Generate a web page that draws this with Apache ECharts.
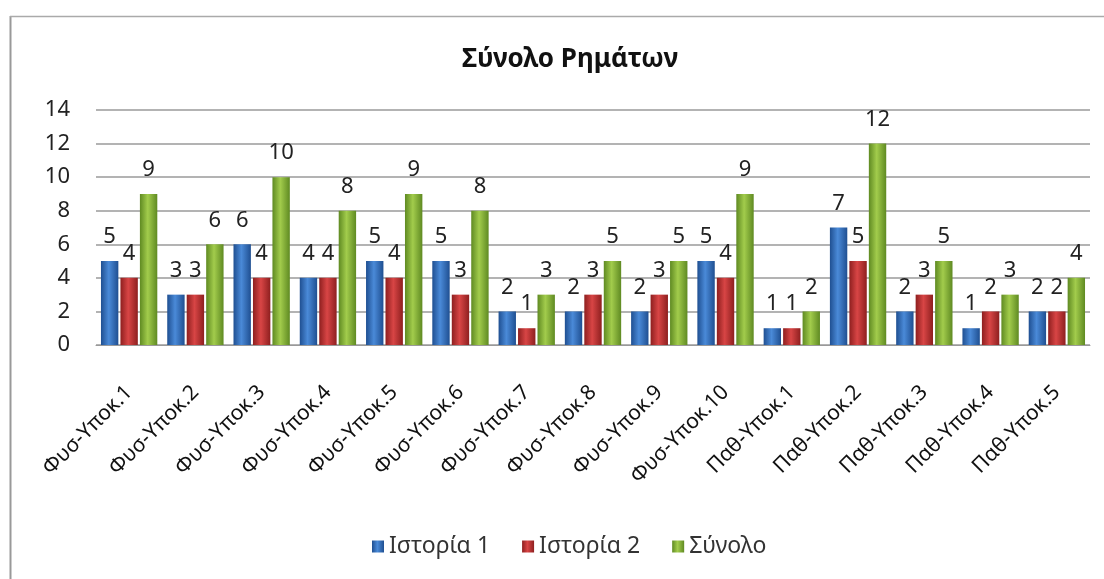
<!DOCTYPE html>
<html>
<head>
<meta charset="utf-8">
<script src="https://cdn.jsdelivr.net/npm/echarts@6/dist/echarts.min.js"></script>
<style>
html,body{margin:0;padding:0;background:#fff;}
#chart{width:1104px;height:579px;}
</style>
</head>
<body>
<div id="chart"></div>
<script>
const categories = ['Φυσ-Υποκ.1','Φυσ-Υποκ.2','Φυσ-Υποκ.3','Φυσ-Υποκ.4','Φυσ-Υποκ.5','Φυσ-Υποκ.6','Φυσ-Υποκ.7','Φυσ-Υποκ.8','Φυσ-Υποκ.9','Φυσ-Υποκ.10','Παθ-Υποκ.1','Παθ-Υποκ.2','Παθ-Υποκ.3','Παθ-Υποκ.4','Παθ-Υποκ.5'];
const istoria1 = [5,3,6,4,5,5,2,2,2,5,1,7,2,1,2];
const istoria2 = [4,3,4,4,4,3,1,3,3,4,1,5,3,2,2];
const synolo = [9,6,10,8,9,8,3,5,5,9,2,12,5,3,4];
const seriesNames = ['Ιστορία 1','Ιστορία 2','Σύνολο'];
const FONT = '"Noto Sans", "Open Sans", sans-serif';

function cyl(dark, light) {
  return new echarts.graphic.LinearGradient(0,0,1,0,[
    {offset:0,color:dark},{offset:0.45,color:light},{offset:1,color:dark}
  ]);
}
const colors = [
  {fill: cyl('#1f4f91','#4a8ad8'), legend:'#3a74c4'},
  {fill: cyl('#8e1f1f','#d84545'), legend:'#c93a3a'},
  {fill: cyl('#5f8a22','#a2cc4c'), legend:'#8bb63c'}
];
const datasets = [istoria1, istoria2, synolo];

const chart = echarts.init(document.getElementById('chart'));
chart.setOption({
  animation:false,
  backgroundColor:'#fff',
  title:{text:'Σύνολο Ρημάτων', left:565, top:42, textAlign:'center',
    textStyle:{fontFamily:FONT, fontSize:26, fontWeight:'bold', color:'#111'}},
  legend:{bottom:16, left:367, itemWidth:12, itemHeight:12, itemGap:32,
    icon:'rect',
    textStyle:{fontFamily:FONT, fontSize:23, color:'#333'}},
  grid:{left:96, right:14, top:110, bottom:234, containLabel:false},
  xAxis:{type:'category', data:categories,
    axisLine:{lineStyle:{color:'#999'}}, axisTick:{show:false},
    axisLabel:{rotate:45, fontFamily:FONT, fontSize:21, color:'#111', margin:44, interval:0}},
  yAxis:{type:'value', min:0, max:14, interval:2,
    axisLine:{show:false}, axisTick:{show:false},
    splitLine:{lineStyle:{color:'#9a9a9a', width:1.5}},
    axisLabel:{fontFamily:FONT, fontSize:22, color:'#222', margin:26}},
  graphic:[
    {type:'line', shape:{x1:10.5,y1:16,x2:10.5,y2:579}, style:{stroke:'#999', lineWidth:2}},
    {type:'line', shape:{x1:10,y1:16.5,x2:1104,y2:16.5}, style:{stroke:'#aaa', lineWidth:1.5}}
  ],
  series: datasets.map((d,i)=>({
    name:seriesNames[i], type:'bar', data:d,
    barGap:'12%', barCategoryGap:'15%',
    itemStyle:{color:colors[i].fill},
    label:{show:true, position:'top', distance:13, fontFamily:FONT, fontSize:22, color:'#222'}
  })),
  color: colors.map(c=>c.legend)
});
</script>
</body>
</html>
